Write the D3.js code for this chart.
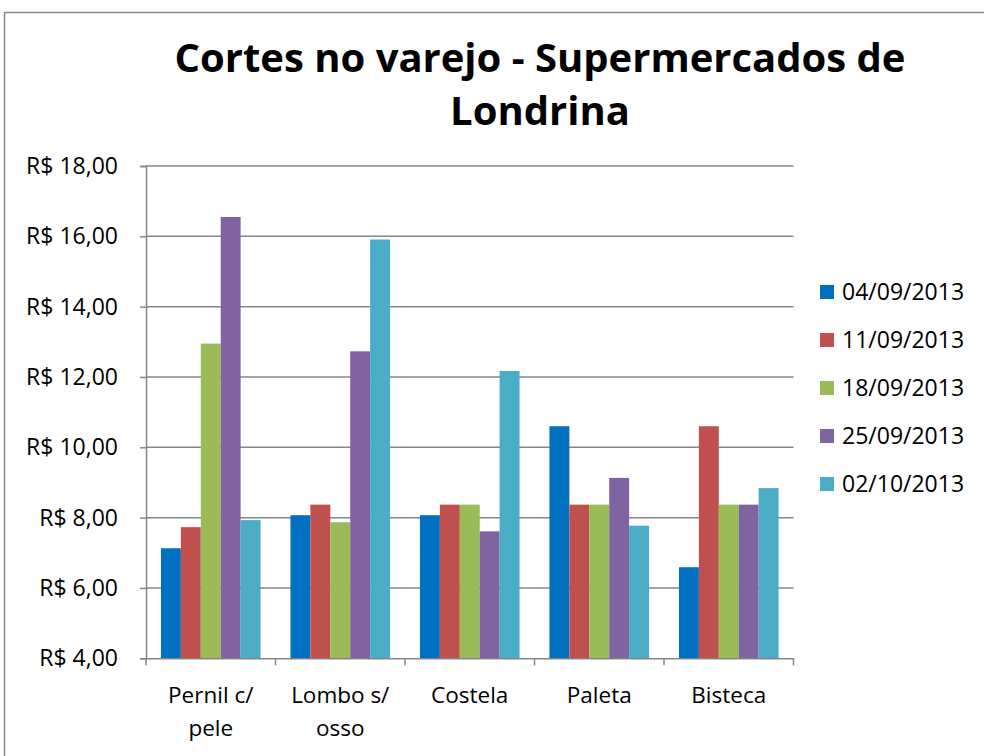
<!DOCTYPE html>
<html>
<head>
<meta charset="utf-8">
<script src="https://cdn.jsdelivr.net/npm/d3@7"></script>
<style>
  body { margin: 0; background: #fff; }
  text { font-family: "Open Sans", "Liberation Sans", sans-serif; fill: #000; }
</style>
</head>
<body>
<div id="chart"></div>
<script>
const categories = [["Pernil c/", "pele"], ["Lombo s/", "osso"], ["Costela"], ["Paleta"], ["Bisteca"]];
const seriesNames = ["04/09/2013", "11/09/2013", "18/09/2013", "25/09/2013", "02/10/2013"];
const seriesColors = ["#0070c0", "#c0504d", "#9bbb59", "#8064a2", "#4bacc6"];
// one row per series, one value per category
const values = [
    [7.13, 8.07, 8.07, 10.60, 6.59],
    [7.73, 8.37, 8.37, 8.37, 10.60],
    [12.95, 7.87, 8.37, 8.37, 8.37],
    [16.55, 12.73, 7.61, 9.13, 8.37],
    [7.93, 15.91, 12.17, 7.77, 8.84]
];
const yTicks = [4, 6, 8, 10, 12, 14, 16, 18];

const W = 984, H = 756;
const plot = { left: 146, right: 793.5, top: 166, bottom: 658.3 };

const svg = d3.select("#chart").append("svg")
    .attr("width", W).attr("height", H);

svg.append("rect")
    .attr("x", 4.5).attr("y", 12.5)
    .attr("width", W + 10).attr("height", H + 10)
    .style("fill", "#fff").style("stroke", "#868686").style("stroke-width", 1.5);

// title
const title = svg.append("text")
    .attr("x", 540).attr("text-anchor", "middle")
    .style("font-size", "40px").style("font-weight", "bold");
title.append("tspan").attr("x", 540).attr("y", 72).text("Cortes no varejo - Supermercados de");
title.append("tspan").attr("x", 540).attr("y", 125).text("Londrina");

const catKeys = categories.map(c => c.join(" "));
const x0 = d3.scaleBand().domain(catKeys).range([plot.left, plot.right]);
const x1 = d3.scaleBand().domain(seriesNames).range([0, x0.bandwidth()]).paddingOuter(0.75);
const y = d3.scaleLinear().domain([4, 18]).range([plot.bottom, plot.top]);

// gridlines
svg.append("g")
    .selectAll("line").data(yTicks.slice(1)).join("line")
    .attr("x1", plot.left).attr("x2", plot.right)
    .attr("y1", d => y(d)).attr("y2", d => y(d))
    .style("stroke", "#868686").style("stroke-width", 1.5);

// bars
const groups = svg.append("g").selectAll("g").data(catKeys).join("g")
    .attr("transform", d => `translate(${x0(d)},0)`);
groups.selectAll("rect")
    .data((d, ci) => seriesNames.map((s, si) => ({ s, si, v: values[si][ci] })))
    .join("rect")
    .attr("x", d => x1(d.s))
    .attr("width", x1.bandwidth())
    .attr("y", d => y(d.v))
    .attr("height", d => y(4) - y(d.v))
    .style("fill", d => seriesColors[d.si]);

// y axis
const fmt = v => "R$ " + d3.format(".2f")(v).replace(".", ",");
const yAxis = svg.append("g").attr("transform", `translate(${plot.left},0)`)
    .call(d3.axisLeft(y).tickValues(yTicks).tickSize(6).tickPadding(22).tickFormat(fmt));
yAxis.select(".domain").style("stroke", "#868686").style("stroke-width", 1.5);
yAxis.selectAll(".tick line").style("stroke", "#868686").style("stroke-width", 1.5);
yAxis.selectAll("text").style("font-size", "23px").style("font-family", "Open Sans, sans-serif");

// x axis line and boundary ticks
const xAxis = svg.append("g").attr("transform", `translate(0,${plot.bottom})`)
    .call(d3.axisBottom(x0).tickSize(0).tickFormat(""));
xAxis.select(".domain").style("stroke", "#868686").style("stroke-width", 1.5);
const bounds = catKeys.map(k => x0(k)).concat([plot.right]);
svg.append("g").selectAll("line").data(bounds).join("line")
    .attr("x1", d => d).attr("x2", d => d)
    .attr("y1", plot.bottom).attr("y2", plot.bottom + 7)
    .style("stroke", "#868686").style("stroke-width", 1.5);

// category labels
svg.append("g").selectAll("text").data(categories).join("text")
    .attr("text-anchor", "middle")
    .style("font-size", "22.5px")
    .each(function (d, i) {
        const cx = x0(catKeys[i]) + x0.bandwidth() / 2;
        d3.select(this).selectAll("tspan").data(d).join("tspan")
            .attr("x", cx).attr("y", (t, j) => 703 + j * 33)
            .text(t => t);
    });

// legend
const legend = svg.append("g").selectAll("g").data(seriesNames).join("g")
    .attr("transform", (d, i) => `translate(820,${292 + i * 48})`);
legend.append("rect")
    .attr("x", 0).attr("y", -7).attr("width", 14).attr("height", 14)
    .style("fill", (d, i) => seriesColors[i]);
legend.append("text")
    .attr("x", 22).attr("y", 8)
    .style("font-size", "23px")
    .text(d => d);
</script>
</body>
</html>
